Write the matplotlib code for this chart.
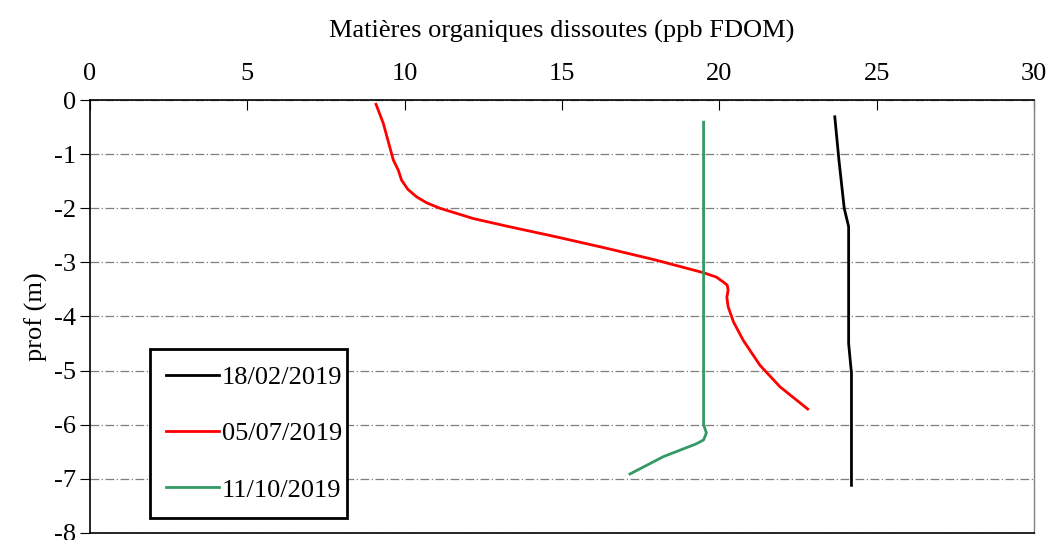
import matplotlib
matplotlib.use("Agg")
import matplotlib.pyplot as plt

plt.rcParams["font.family"] = ["Liberation Serif", "DejaVu Serif"]
plt.rcParams["axes.unicode_minus"] = False

# Profils de FDOM (ppb) en fonction de la profondeur (m)
fdom_0218 = [23.67, 23.80, 23.97, 24.11, 24.11, 24.11, 24.11, 24.20, 24.20, 24.20]
prof_0218 = [-0.31, -1.10, -2.00, -2.34, -3.00, -4.00, -4.50, -5.05, -6.00, -7.12]

fdom_0705 = [9.09, 9.32, 9.64, 9.80, 9.90, 10.10, 10.38, 10.70, 11.12, 12.18,
             13.24, 14.83, 16.42, 18.00, 19.49, 19.90, 20.12, 20.25, 20.28, 20.24,
             20.28, 20.45, 20.76, 21.29, 21.93, 22.81]
prof_0705 = [-0.08, -0.43, -1.11, -1.30, -1.48, -1.65, -1.79, -1.90, -2.00, -2.19,
             -2.33, -2.53, -2.74, -2.96, -3.19, -3.27, -3.36, -3.42, -3.51, -3.65,
             -3.82, -4.10, -4.44, -4.90, -5.30, -5.71]

fdom_1011 = [19.50, 19.50, 19.50, 19.59, 19.50, 19.28, 18.22, 17.16]
prof_1011 = [-0.41, -3.00, -6.00, -6.15, -6.28, -6.35, -6.59, -6.91]

labels = ["18/02/2019", "05/07/2019", "11/10/2019"]
colors = ["black", "#ff0000", "#339966"]

fig = plt.figure(figsize=(10.48, 5.40), dpi=100)
ax = fig.add_axes([0.0859, 0.013, 0.9007, 0.8018])

ax.plot(fdom_0218, prof_0218, color=colors[0], lw=2, label=labels[0])
ax.plot(fdom_0705, prof_0705, color=colors[1], lw=2, label=labels[1])
ax.plot(fdom_1011, prof_1011, color=colors[2], lw=2, label=labels[2])

ax.set_xlim(0, 30)
ax.set_ylim(-8, 0)
ax.set_xticks(range(0, 31, 5))
ax.set_yticks(range(-8, 1))

ax.xaxis.tick_top()
ax.xaxis.set_label_position("top")
ax.set_xlabel("Matières organiques dissoutes (ppb FDOM)", fontsize=19, labelpad=18)
ax.set_ylabel("prof (m)", fontsize=19, labelpad=4)
ax.tick_params(axis="x", direction="in", length=7, labelsize=19, pad=11, colors="black")
ax.tick_params(axis="y", direction="out", length=7, labelsize=19, pad=3)

ax.yaxis.grid(True, color="#7f7f7f", lw=0.9, dashes=(7, 2, 1, 2))
ax.set_axisbelow(True)

for side in ["left", "top", "bottom"]:
    ax.spines[side].set_color("black")
    ax.spines[side].set_linewidth(1.2)
ax.spines["right"].set_color("#808080")
ax.spines["right"].set_linewidth(1.0)

leg = ax.legend(loc="lower left", bbox_to_anchor=(0.0636, 0.0346, 0.2086, 0.388),
                mode="expand", fontsize=19, frameon=True, fancybox=False,
                handlelength=2.0, handletextpad=0.1, labelspacing=1.24,
                borderaxespad=0, borderpad=0.62)
leg.get_frame().set_edgecolor("black")
leg.get_frame().set_linewidth(2)
leg.get_frame().set_alpha(1)

fig.savefig("out.png", dpi=100)
